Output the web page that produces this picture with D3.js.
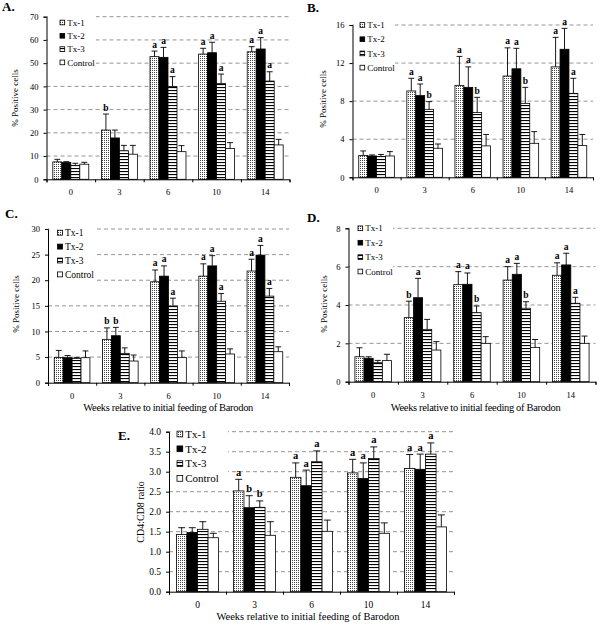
<!DOCTYPE html>
<html><head><meta charset="utf-8">
<script src="https://cdn.jsdelivr.net/npm/d3@7"></script>
<style>body{margin:0;background:#fff}svg{display:block}</style>
</head><body>
<svg id="c" width="600" height="626"></svg>
<script>
// ---------- data ----------
const categories = ["0", "3", "6", "10", "14"];
const series = ["Tx-1", "Tx-2", "Tx-3", "Control"];

// Panel A
const aMeans = [[7.5,21.2,52.8,53.9,54.9],[7.2,17.8,52.5,54.5,56.1],[6.0,12.3,39.9,41.3,42.3],[6.5,10.8,11.9,13.3,14.8]];
const aErr   = [[1.1,6.9,2.4,2.5,2.2],[0.4,3.4,4.3,4.5,4.9],[0.9,2.3,4.3,4.0,4.0],[0.8,3.8,2.6,2.5,2.4]];
const aSig   = [["","b","a","a","a"],["","","a","a","a"],["","","a","a","a"],["","","","",""]];
const aTicks = [0,10,20,30,40,50,60,70];
// Panel B
const bMeans = [[2.3,9.07,9.66,10.64,11.6],[2.24,8.58,9.45,11.4,13.45],[2.2,7.14,6.8,7.77,8.82],[2.24,3.05,3.3,3.57,3.33]];
const bErr   = [[0.47,1.33,3.04,2.96,3.1],[0.11,1.22,2.15,2.15,2.2],[0.2,0.81,1.6,1.68,1.58],[0.46,0.45,1.2,1.23,1.17]];
const bSig   = [["","a","a","a","a"],["","a","a","a","a"],["","b","b","b","a"],["","","","",""]];
const bTicks = [0,4,8,12,16];
// Panel C
const cMeans = [[4.94,8.46,19.7,20.8,21.8],[4.88,9.17,20.8,22.8,24.9],[4.75,5.73,14.96,15.9,16.9],[4.88,4.23,4.94,5.6,6.05]];
const cErr   = [[1.36,2.24,2.3,2.4,2.3],[0.42,1.63,2.0,2.0,1.9],[0.19,1.07,1.54,1.5,1.5],[1.32,1.17,1.26,1.0,0.95]];
const cSig   = [["","b","a","a","a"],["","b","a","a","a"],["","","a","a","a"],["","","","",""]];
const cTicks = [0,5,10,15,20,25,30];
// Panel D
const dMeans = [[1.3,3.34,5.06,5.3,5.55],[1.22,4.38,5.08,5.6,6.09],[0.99,2.73,3.6,3.83,4.09],[1.1,1.65,2.0,1.79,2.0]];
const dErr   = [[0.47,0.86,0.68,0.7,0.65],[0.08,1.01,0.59,0.57,0.61],[0.12,0.52,0.35,0.34,0.31],[0.33,0.44,0.35,0.41,0.38]];
const dSig   = [["","b","a","a","a"],["","a","a","a","a"],["","","b","b","a"],["","","","",""]];
const dTicks = [0,2,4,6,8];
// Panel E
const eMeans = [[1.43,2.52,2.86,2.97,3.08],[1.48,2.1,2.65,2.83,3.06],[1.56,2.11,3.25,3.33,3.44],[1.35,1.41,1.51,1.46,1.62]];
const eErr   = [[0.17,0.29,0.36,0.34,0.35],[0.12,0.3,0.39,0.39,0.38],[0.19,0.16,0.27,0.29,0.28],[0.11,0.34,0.28,0.26,0.3]];
const eSig   = [["","a","a","a","a"],["","b","a","a","a"],["","b","a","a","a"],["","","","",""]];
const eTicks = [0,0.5,1.0,1.5,2.0,2.5,3.0,3.5,4.0];

const xTitle = "Weeks relative to initial feeding of Barodon";

// ---------- layout ----------
const panels = [
  {id:"A.", means:aMeans, err:aErr, sig:aSig, ticks:aTicks, fmt:d3.format("d"),
   x0:46.5, x1:289.5, yb:179.3, yt:16.7, lx:2, ly:10.5, ytitle:"% Positive cells", ytx:15, yty:98,
   leg:{mx:60, row0:22.5, step:13.3, right:96, bottom:67}, xt:null, fs:8.5, lfs:9, sfs:9.5, yfs:9},
  {id:"B.", means:bMeans, err:bErr, sig:bSig, ticks:bTicks, fmt:d3.format("d"),
   x0:352.5, x1:593, yb:177.3, yt:25, lx:307, ly:12, ytitle:"% Positive cells", ytx:322.5, yty:99,
   leg:{mx:360, row0:25, step:14.2, right:395, bottom:74}, xt:null, fs:8.5, lfs:9, sfs:9.5, yfs:9},
  {id:"C.", means:cMeans, err:cErr, sig:cSig, ticks:cTicks, fmt:d3.format("d"),
   x0:48, x1:289, yb:382.7, yt:229, lx:5, ly:218, ytitle:"% Positive cells", ytx:16, yty:304,
   leg:{mx:57.5, row0:232.7, step:13.9, right:96, bottom:281}, xt:[168.3,411], fs:8.5, lfs:9.5, sfs:9.5, yfs:9},
  {id:"D.", means:dMeans, err:dErr, sig:dSig, ticks:dTicks, fmt:d3.format("d"),
   x0:348.5, x1:595.5, yb:381.7, yt:228.3, lx:307, ly:221.5, ytitle:"% Positive cells", ytx:324, yty:304,
   leg:{mx:358, row0:228.3, step:14.4, right:393, bottom:278}, xt:[475.7,411], fs:8.5, lfs:9, sfs:9.5, yfs:9},
  {id:"E.", means:eMeans, err:eErr, sig:eSig, ticks:eTicks, fmt:d3.format(".1f"),
   x0:169, x1:454, yb:591.7, yt:431.7, lx:118, ly:440, ytitle:"CD4:CD8 ratio", ytx:140, yty:512,
   leg:{mx:177, row0:434, step:14.8, right:228, bottom:484}, xt:[308,620], fs:9.5, lfs:11, sfs:10.5, yfs:10}
];

const svg = d3.select("#c");
const FONT = "'Liberation Serif','Times New Roman','DejaVu Serif',serif";
const defs = svg.append("defs");
// stipple pattern (Tx-1)
const p1 = defs.append("pattern").attr("id","dots").attr("patternUnits","userSpaceOnUse").attr("width",2).attr("height",2);
p1.append("rect").attr("width",2).attr("height",2).attr("fill","#fff");
p1.append("rect").attr("width",1).attr("height",1).attr("fill","#444");
// horizontal stripes (Tx-3)
const p3 = defs.append("pattern").attr("id","stripes").attr("patternUnits","userSpaceOnUse").attr("width",4).attr("height",3);
p3.append("rect").attr("width",4).attr("height",3).attr("fill","#fff");
p3.append("rect").attr("width",4).attr("height",1.1).attr("fill","#000");
const fills = ["url(#dots)", "#000", "url(#stripes)", "#fff"];

panels.forEach(P => {
  const g = svg.append("g");
  const y = d3.scaleLinear().domain([0, P.ticks[P.ticks.length-1]]).range([P.yb, P.yt]);
  const x = d3.scaleBand().domain(categories).range([P.x0, P.x1]).paddingInner(0.26).paddingOuter(0.13);
  const xs = d3.scaleBand().domain(series).range([0, x.bandwidth()]);
  const bound = d3.scaleLinear().domain([0, categories.length]).range([P.x0, P.x1]);

  // gridlines
  g.append("g").selectAll("line").data(P.ticks.filter(t => t > 0)).join("line")
    .attr("x1", P.x0).attr("x2", P.x1).attr("y1", d => y(d)).attr("y2", d => y(d))
    .attr("stroke", "#8a8a8a").attr("stroke-width", 0.9).attr("stroke-dasharray", "4,3");

  // legend background
  g.append("rect").attr("x", P.x0 + 1.5).attr("y", P.yt - 3)
    .attr("width", P.leg.right - P.x0 - 1.5).attr("height", P.leg.bottom - P.yt + 3).attr("fill", "#fff");

  // bars
  const rows = [];
  series.forEach((s, si) => categories.forEach((c, ci) => rows.push({s, si, c, v:P.means[si][ci], e:P.err[si][ci], l:P.sig[si][ci]})));
  const bw = xs.bandwidth();
  const bars = g.append("g");
  bars.selectAll("rect").data(rows).join("rect")
    .attr("x", d => x(d.c) + xs(d.s)).attr("width", bw)
    .attr("y", d => y(d.v)).attr("height", d => P.yb - y(d.v))
    .attr("fill", d => fills[d.si]).attr("stroke", "#000").attr("stroke-width", 0.8);
  // error bars
  const cap = bw * 0.33;
  const eb = g.append("g").attr("stroke", "#000").attr("stroke-width", 0.9);
  eb.selectAll("line.v").data(rows).join("line").attr("class","v")
    .attr("x1", d => x(d.c) + xs(d.s) + bw/2).attr("x2", d => x(d.c) + xs(d.s) + bw/2)
    .attr("y1", d => y(d.v)).attr("y2", d => y(d.v + d.e));
  eb.selectAll("line.h").data(rows).join("line").attr("class","h")
    .attr("x1", d => x(d.c) + xs(d.s) + bw/2 - cap).attr("x2", d => x(d.c) + xs(d.s) + bw/2 + cap)
    .attr("y1", d => y(d.v + d.e)).attr("y2", d => y(d.v + d.e));
  // significance letters
  g.append("g").selectAll("text").data(rows.filter(d => d.l)).join("text")
    .attr("x", d => x(d.c) + xs(d.s) + bw/2).attr("y", d => y(d.v + d.e) - 3.5)
    .attr("text-anchor", "middle").attr("font-family", FONT).attr("font-weight", "bold")
    .attr("font-size", P.sfs).text(d => d.l);

  // y axis
  const ya = g.append("g").attr("transform", `translate(${P.x0},0)`)
    .call(d3.axisLeft(y).tickValues(P.ticks).tickFormat(P.fmt).tickSize(3).tickPadding(5));
  ya.attr("font-family", FONT);
  ya.selectAll("text").attr("font-family", FONT).attr("font-size", P.fs).attr("fill", "#000");
  ya.selectAll("line,path").attr("stroke", "#000");
  // x axis: boundary ticks
  const xa = g.append("g").attr("transform", `translate(0,${P.yb})`)
    .call(d3.axisBottom(bound).ticks(categories.length).tickFormat("").tickSize(3).tickSizeOuter(3));
  xa.selectAll("line,path").attr("stroke", "#000");
  // x labels
  const xl = g.append("g").attr("transform", `translate(0,${P.yb})`)
    .call(d3.axisBottom(x).tickSize(0).tickPadding(10));
  xl.attr("font-family", FONT);
  xl.select("path").remove();
  xl.selectAll("text").attr("font-family", FONT).attr("font-size", P.fs).attr("fill", "#000");

  // legend
  const lg = g.append("g");
  series.forEach((s, si) => {
    const cy = P.leg.row0 + si * P.leg.step;
    const sz = P.lfs * 0.52;
    lg.append("rect").attr("x", P.leg.mx).attr("y", cy - sz/2).attr("width", sz).attr("height", sz)
      .attr("fill", fills[si]).attr("stroke", "#000").attr("stroke-width", 0.8);
    lg.append("text").attr("x", P.leg.mx + sz + 2.5).attr("y", cy).attr("dy", "0.35em")
      .attr("font-family", FONT).attr("font-size", P.lfs).text(s);
  });

  // panel letter
  g.append("text").attr("x", P.lx).attr("y", P.ly).attr("font-family", FONT)
    .attr("font-weight", "bold").attr("font-size", 13).text(P.id);
  // y title
  g.append("text").attr("transform", `translate(${P.ytx},${P.yty}) rotate(-90)`).attr("dy", "0.35em")
    .attr("text-anchor", "middle").attr("font-family", FONT).attr("font-size", P.yfs).text(P.ytitle);
  // x title
  if (P.xt) {
    g.append("text").attr("x", P.xt[0]).attr("y", P.xt[1]).attr("text-anchor", "middle")
      .attr("font-family", FONT).attr("font-size", 10.5).attr("textLength", P.id === "E." ? 183 : 170)
      .attr("lengthAdjust", "spacing").text(xTitle);
  }
});
</script>
</body></html>
